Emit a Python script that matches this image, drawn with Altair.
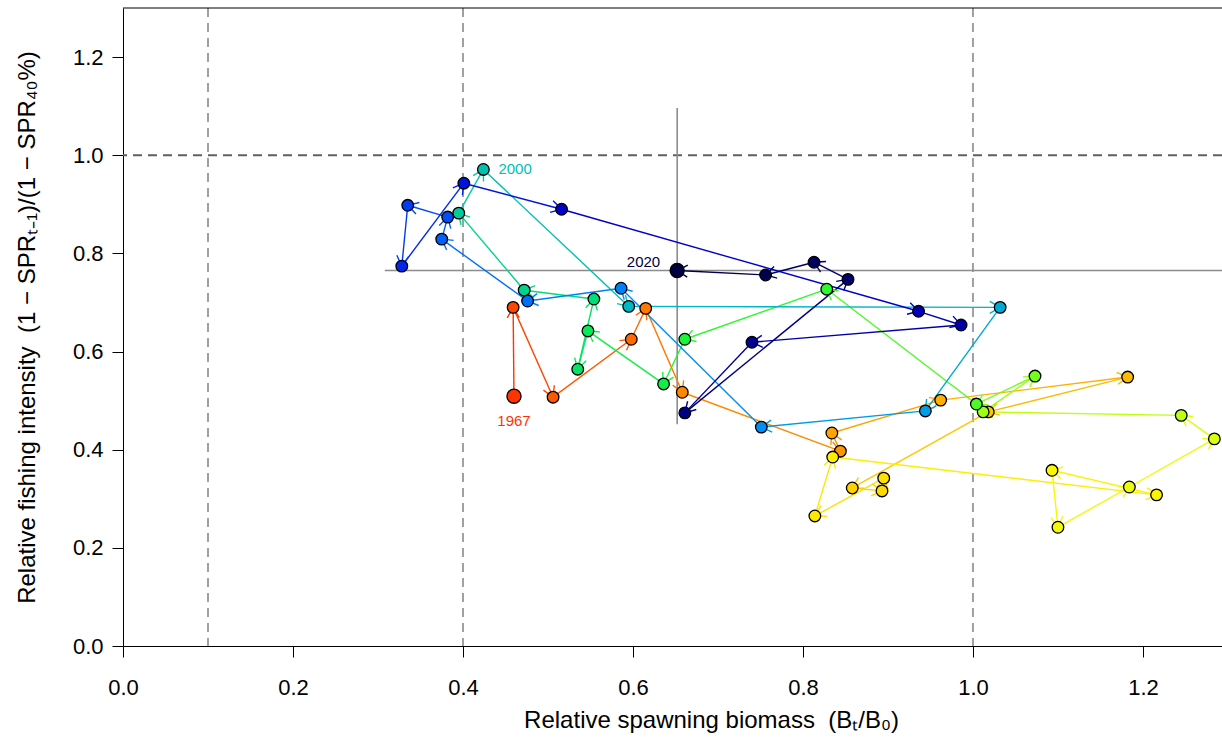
import math
import numpy as np
import pandas as pd
import altair as alt

# ---- stock trajectory: relative spawning biomass vs relative fishing intensity ----
years = list(range(1967, 2021))
biomass = [
    0.460, 0.459, 0.506, 0.598, 0.615, 0.658, 0.844, 0.834, 0.962, 1.182,  # 1967-1976
    1.018, 0.858, 0.893, 0.895, 0.814, 0.835, 1.216, 1.093, 1.100, 1.184,  # 1977-1986
    1.284, 1.245, 1.012, 1.073, 1.004, 0.828, 0.661, 0.636, 0.547, 0.535,  # 1987-1996
    0.554, 0.472, 0.395, 0.424, 0.595, 1.032, 0.944, 0.751, 0.586, 0.476,  # 1997-2006
    0.375, 0.382, 0.335, 0.328, 0.401, 0.516, 0.936, 0.986, 0.740, 0.661,  # 2007-2016
    0.853, 0.813, 0.756, 0.652,                                            # 2017-2020
]
intensity = [
    0.509, 0.690, 0.507, 0.625, 0.688, 0.517, 0.397, 0.434, 0.501, 0.548,
    0.477, 0.322, 0.316, 0.342, 0.265, 0.385, 0.308, 0.358, 0.242, 0.324,
    0.422, 0.470, 0.477, 0.550, 0.493, 0.727, 0.625, 0.534, 0.642, 0.564,
    0.707, 0.725, 0.882, 0.971, 0.692, 0.690, 0.479, 0.446, 0.729, 0.703,
    0.829, 0.874, 0.898, 0.774, 0.943, 0.890, 0.682, 0.654, 0.619, 0.475,
    0.747, 0.782, 0.756, 0.765,
]
labelled_years = [1967, 2000, 2020]

# reference lines
bio_refs = [0.1, 0.4, 1.0]          # limit / target / unfished biomass
spr_ref = [1.0]                      # SPR 40% fishing intensity
cur_bio_interval = [0.308, 1.293]    # uncertainty in final-year biomass
cur_spr_interval = [0.452, 1.096]    # uncertainty in final-year intensity

# ---- layout ----
W, H = 1099, 638
XMAX, YMAX = 1.293, 1.30
FONT = "Liberation Sans"
SP = "\u00a0\u00a0"   # wide gap kept by the SVG renderer


def temperature_palette(n):
    """'temperature' rich colours, navy -> cyan -> green -> yellow -> red."""
    v = np.linspace(0, 1, n)
    r = 1 / (1 + np.exp(20 - 35 * v))
    g = np.clip(-0.8 + 6 * v - 5 * v ** 2, 0, 1)
    dens = np.exp(-0.5 * ((v - 0.25) / 0.15) ** 2)
    b = dens / dens.max()
    return ["#%02x%02x%02x" % tuple(int(c * 255 + 0.5) for c in rgb) for rgb in zip(r, g, b)]


colours = temperature_palette(len(years))[::-1]   # oldest year red, newest navy
colour_scale = alt.Scale(domain=years, range=colours)

pts = pd.DataFrame({"year": years, "bio": biomass, "spr": intensity})

seg = pd.DataFrame({
    "year": years[:-1],
    "bio": biomass[:-1], "spr": intensity[:-1],
    "bio2": biomass[1:], "spr2": intensity[1:],
})
sx, sy = W / XMAX, H / YMAX
seg["angle"] = (np.degrees(np.arctan2(-(seg["spr2"] - seg["spr"]) * sy,
                                      (seg["bio2"] - seg["bio"]) * sx)) + 360) % 360

x_scale = alt.Scale(domain=[0, XMAX], nice=False, zero=False)
y_scale = alt.Scale(domain=[0, YMAX], nice=False, zero=False)

x_axis = alt.Axis(
    values=[0, 0.2, 0.4, 0.6, 0.8, 1.0, 1.2], format=".1f",
    title=f"Relative spawning biomass{SP}(Bₜ/B₀)",
    titleAlign="center", titleX=588, titleY=81,
    titleBaseline="alphabetic",
    labelPadding=20, labelFlush=False,
)
y_axis = alt.Axis(
    values=[0, 0.2, 0.4, 0.6, 0.8, 1.0, 1.2], format=".1f",
    title=f"Relative fishing intensity{SP}(1 − SPRₜ₋₁)/(1 − SPR₄₀%)",
    titleAngle=270, titleAlign="center",
    titleX=-89, titleY=319, titleBaseline="alphabetic",
    labelAngle=0, labelPadding=9, labelFlush=False,
)

X = alt.X("bio:Q", scale=x_scale, axis=x_axis)
Y = alt.Y("spr:Q", scale=y_scale, axis=y_axis)

# dashed reference lines
vref = alt.Chart(pd.DataFrame({"bio": bio_refs})).mark_rule(
    color="#a0a0a0", strokeWidth=2, strokeDash=[9, 6]
).encode(x=alt.X("bio:Q", scale=x_scale))
href = alt.Chart(pd.DataFrame({"spr": spr_ref})).mark_rule(
    color="#606060", strokeWidth=2, strokeDash=[9, 6]
).encode(y=alt.Y("spr:Q", scale=y_scale))

# final-year crosshair
cross_v = alt.Chart(pd.DataFrame({
    "bio": [biomass[-1]], "lo": [cur_spr_interval[0]], "hi": [cur_spr_interval[1]]
})).mark_rule(color="#8c8c8c", strokeWidth=1.6).encode(
    x=alt.X("bio:Q", scale=x_scale),
    y=alt.Y("lo:Q", scale=y_scale), y2="hi:Q")
cross_h = alt.Chart(pd.DataFrame({
    "spr": [intensity[-1]], "lo": [cur_bio_interval[0]], "hi": [cur_bio_interval[1]]
})).mark_rule(color="#8c8c8c", strokeWidth=1.6).encode(
    y=alt.Y("spr:Q", scale=y_scale),
    x=alt.X("lo:Q", scale=x_scale), x2="hi:Q")

# year-to-year path
path = alt.Chart(seg).mark_rule(strokeWidth=1.4).encode(
    x=alt.X("bio:Q", scale=x_scale), y=alt.Y("spr:Q", scale=y_scale),
    x2="bio2:Q", y2="spr2:Q",
    color=alt.Color("year:O", scale=colour_scale, legend=None),
)
heads = alt.Chart(seg).mark_point(
    shape="M-1,-0.577L0,0L-1,0.577", filled=False, size=430, strokeWidth=1.4, opacity=1
).encode(
    x=alt.X("bio2:Q", scale=x_scale), y=alt.Y("spr2:Q", scale=y_scale),
    angle=alt.Angle("angle:Q", scale=None),
    color=alt.Color("year:O", scale=colour_scale, legend=None),
)

# yearly points, first and last year larger
dots = alt.Chart(pts).mark_circle(stroke="black", strokeWidth=1.3, opacity=1, size=135).encode(
    x=X, y=Y, fill=alt.Fill("year:O", scale=colour_scale, legend=None),
)
ends = alt.Chart(pts[pts["year"].isin([years[0], years[-1]])]).mark_circle(
    stroke="black", strokeWidth=1.3, opacity=1, size=200
).encode(
    x=alt.X("bio:Q", scale=x_scale), y=alt.Y("spr:Q", scale=y_scale),
    fill=alt.Fill("year:O", scale=colour_scale, legend=None),
)

# year labels
lab = pts[pts["year"].isin(labelled_years)].copy()
lab["txt"] = lab["year"].astype(str)


def year_label(yr, **kw):
    return alt.Chart(lab[lab["year"] == yr]).mark_text(
        font=FONT, fontSize=15, **kw
    ).encode(
        x=alt.X("bio:Q", scale=x_scale), y=alt.Y("spr:Q", scale=y_scale),
        text="txt:N",
        color=alt.Color("year:O", scale=colour_scale, legend=None),
    )


lab_first = year_label(1967, align="center", baseline="middle", dy=25)
lab_mid = year_label(2000, align="left", baseline="middle", dx=15)
lab_last = year_label(2020, align="right", baseline="middle", dx=-17, dy=-9)

top_border = alt.Chart(pd.DataFrame({"k": [0]})).mark_rule(color="black", strokeWidth=1).encode(
    x=alt.value(0), x2=alt.value(W), y=alt.value(0)
)

chart = alt.layer(
    vref, href, cross_v, cross_h, path, heads, dots, ends,
    lab_first, lab_mid, lab_last, top_border,
).properties(
    width=W, height=H,
    padding={"left": 123, "top": 8, "right": 0, "bottom": 98},
    autosize=alt.AutoSizeParams(type="none"),
).configure_view(
    stroke=None
).configure_axis(
    grid=False, domainColor="black", domainWidth=1, tickColor="black", tickSize=11,
    labelFont=FONT, labelFontSize=22, labelColor="black",
    titleFont=FONT, titleFontSize=24, titleFontWeight="normal", titleColor="black",
)

chart.save("out.html", embed_options={"renderer": "svg", "actions": False})
